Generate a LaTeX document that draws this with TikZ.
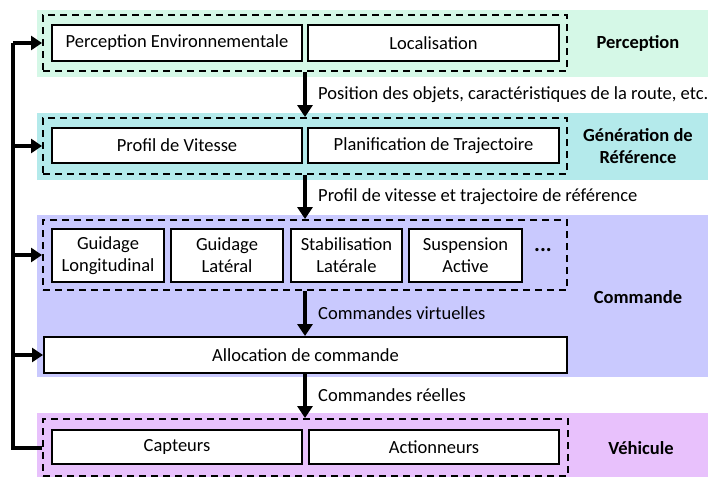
\documentclass[tikz,border=0pt]{standalone}
\usepackage{fontspec}
\setmainfont{Carlito}
\usepackage{tikz}
\usetikzlibrary{
  arrows.meta,
  positioning,
  calc
}
\definecolor{vhPerc}{HTML}{D5F8E7}
\definecolor{vhRef}{HTML}{B4EAEB}
\definecolor{vhCmd}{HTML}{C9C9FE}
\definecolor{vhVeh}{HTML}{E8C1FC}
\newcommand{\boxfont}{\fontsize{18.5}{22}\selectfont}
\tikzset{
  blockbox/.style={
    draw, line width=2pt, fill=white, font=\boxfont, align=center,
    inner sep=0pt
  },
  group/.style={draw, dashed, line width=2pt, dash pattern=on 7pt off 5pt, inner sep=0pt},
  layername/.style={font=\boxfont\bfseries, align=center},
  tag/.style={font=\boxfont, anchor=west, inner sep=0pt},
  flow/.style={-{Triangle[length=12pt,width=15pt]}, line width=4pt},
  fbline/.style={line width=4pt},
  fbarrow/.style={-{Triangle[length=11pt,width=14pt]}, line width=4pt}
}

\begin{document}
\begin{tikzpicture}[x=1pt, y=-1pt]
  \useasboundingbox (0,0) rectangle (710,477);
  % layers
  \fill[vhPerc] (37,10) rectangle (708,77);
  \fill[vhRef] (37,113) rectangle (708,180);
  \fill[vhCmd] (37,215) rectangle (708,377);
  \fill[vhVeh] (37,413) rectangle (708,477);

  % Perception
  \node[blockbox, minimum width=250, minimum height=36] (env) at (177,43) {Perception Environnementale};
  \node[blockbox, minimum width=251, minimum height=36] (loc) at (433.5,43) {Localisation};
  \node[group, minimum width=524, minimum height=56] (percgrp) at (305,43) {};
  \node[layername] (perc) at (638,43) {Perception};

  % Generation de reference
  \node[blockbox, minimum width=250, minimum height=35] (vit) at (177,145.5) {Profil de Vitesse};
  \node[blockbox, minimum width=251, minimum height=35] (traj) at (433.5,145.5) {Planification de Trajectoire};
  \node[group, minimum width=524, minimum height=56] (refgrp) at (305,146) {};
  \node[layername] (ref) at (638,146) {Génération de\\Référence};

  % Commande
  \node[blockbox, minimum width=112, minimum height=53] (glong) at (108,255.5) {Guidage\\Longitudinal};
  \node[blockbox, minimum width=112, minimum height=53] (glat) at (227,255.5) {Guidage\\Latéral};
  \node[blockbox, minimum width=111, minimum height=53] (stab) at (346.5,255.5) {Stabilisation\\Latérale};
  \node[blockbox, minimum width=113, minimum height=53] (susp) at (465.5,255.5) {Suspension\\Active};
  \node[font=\fontsize{22}{22}\selectfont\bfseries] (more) at (543,250) {...};
  \node[group, minimum width=524, minimum height=70] (ctrlgrp) at (305,255) {};
  \node[blockbox, minimum width=523, minimum height=36] (alloc) at (305.5,355) {Allocation de commande};
  \node[layername] (cmd) at (638,297) {Commande};

  % Vehicule
  \node[blockbox, minimum width=250, minimum height=34] (capt) at (177,447) {Capteurs};
  \node[blockbox, minimum width=250, minimum height=34] (act) at (434,447) {Actionneurs};
  \node[group, minimum width=525, minimum height=57] (vehgrp) at (305.5,447.5) {};
  \node[layername] (veh) at (641,448) {Véhicule};

  % flows between layers
  \draw[flow] (percgrp.south -| 305,0) -- (refgrp.north -| 305,0);
  \node[tag] at (318,95) {Position des objets, caractéristiques de la route, etc.};
  \draw[flow] (refgrp.south -| 305,0) -- (ctrlgrp.north -| 305,0);
  \node[tag] at (318,197) {Profil de vitesse et trajectoire de référence};
  \draw[flow] (ctrlgrp.south -| 305,0) -- (alloc.north -| 305,0);
  \node[tag] at (318,313) {Commandes virtuelles};
  \draw[flow] (alloc.south -| 305,0) -- (vehgrp.north -| 305,0);
  \node[tag] at (318,395) {Commandes réelles};

  % feedback
  \coordinate (fbtop) at (13,43);
  \draw[fbline] (vehgrp.west) -- (vehgrp.west -| fbtop) -- (fbtop);
  \draw[fbarrow] (fbtop) -- (percgrp.west);
  \draw[fbarrow] (refgrp.west -| fbtop) -- (refgrp.west);
  \draw[fbarrow] (ctrlgrp.west -| fbtop) -- (ctrlgrp.west);
  \draw[fbarrow] (alloc.west -| fbtop) -- (alloc.west);
\end{tikzpicture}
\end{document}
